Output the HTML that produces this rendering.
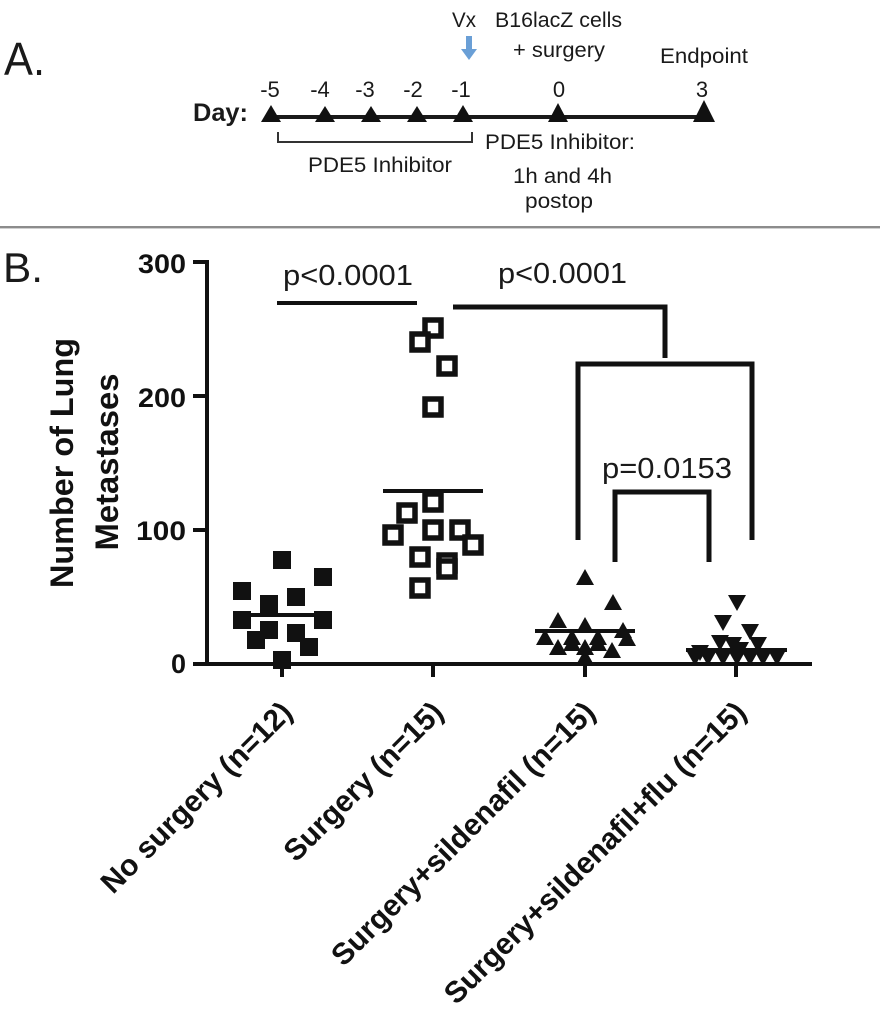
<!DOCTYPE html>
<html>
<head>
<meta charset="utf-8">
<style>
  html,body{margin:0;padding:0;background:#fff;}
  svg{display:block;}
</style>
</head>
<body>
<svg width="880" height="1021" viewBox="0 0 880 1021" xmlns="http://www.w3.org/2000/svg">
  <rect x="0" y="0" width="880" height="1021" fill="#ffffff"/>

  <!-- ============ PANEL A ============ -->
  <g font-family="'Liberation Sans', Arial, sans-serif" fill="#1a1a1a">
    <text x="4" y="75" font-size="46" textLength="41" lengthAdjust="spacingAndGlyphs">A.</text>

    <text x="452" y="27" font-size="21" textLength="24" lengthAdjust="spacingAndGlyphs">Vx</text>
    <text x="495" y="27" font-size="21" textLength="127" lengthAdjust="spacingAndGlyphs">B16lacZ cells</text>
    <text x="513" y="57" font-size="21" textLength="92" lengthAdjust="spacingAndGlyphs">+ surgery</text>
    <text x="660" y="63" font-size="21" textLength="88" lengthAdjust="spacingAndGlyphs">Endpoint</text>

    <g font-size="22" text-anchor="middle">
      <text x="270" y="97">-5</text>
      <text x="320" y="97">-4</text>
      <text x="365" y="97">-3</text>
      <text x="413" y="97">-2</text>
      <text x="461" y="97">-1</text>
      <text x="559" y="97">0</text>
      <text x="702" y="97">3</text>
    </g>

    <text x="193" y="121" font-size="25" font-weight="bold" textLength="55" lengthAdjust="spacingAndGlyphs">Day:</text>

    <text x="308" y="172" font-size="21" textLength="144" lengthAdjust="spacingAndGlyphs">PDE5 Inhibitor</text>
    <text x="485" y="149" font-size="21" textLength="150" lengthAdjust="spacingAndGlyphs">PDE5 Inhibitor:</text>
    <text x="513" y="183" font-size="21" textLength="99" lengthAdjust="spacingAndGlyphs">1h and 4h</text>
    <text x="525" y="208" font-size="21" textLength="68" lengthAdjust="spacingAndGlyphs">postop</text>
  </g>

  <!-- blue arrow -->
  <rect x="466" y="36" width="6" height="14" fill="#6a9fd6"/>
  <polygon points="461,49 477,49 469,60" fill="#6a9fd6"/>

  <!-- timeline -->
  <line x1="271" y1="117" x2="704" y2="117" stroke="#1a1a1a" stroke-width="4"/>
  <g fill="#111">
    <polygon points="261,122 281,122 271,105"/>
    <polygon points="315,122 335,122 325,106"/>
    <polygon points="361,122 381,122 371,106"/>
    <polygon points="407,122 427,122 417,106"/>
    <polygon points="453,122 473,122 463,105"/>
    <polygon points="548,122 568,122 558,103"/>
    <polygon points="693,122 715,122 704,100"/>
  </g>
  <!-- bracket under days -->
  <path d="M278 132 V142 H472 V132" fill="none" stroke="#333" stroke-width="2"/>

  <!-- separator -->
  <rect x="0" y="226" width="880" height="2" fill="#8c8c8c"/>
  <rect x="0" y="228" width="880" height="1" fill="#d0d0d0"/>

  <!-- ============ PANEL B ============ -->
  <g font-family="'Liberation Sans', Arial, sans-serif" fill="#1a1a1a">
    <text x="3" y="282" font-size="42" textLength="40" lengthAdjust="spacingAndGlyphs">B.</text>
  </g>

  <!-- Y axis title -->
  <g font-family="'Liberation Sans', Arial, sans-serif" font-weight="bold" font-size="32" fill="#111" text-anchor="middle">
    <text transform="translate(73,463) rotate(-90)" textLength="250" lengthAdjust="spacingAndGlyphs">Number of Lung</text>
    <text transform="translate(118,462) rotate(-90)" textLength="177" lengthAdjust="spacingAndGlyphs">Metastases</text>
  </g>

  <!-- Y tick labels -->
  <g font-family="'Liberation Sans', Arial, sans-serif" font-weight="bold" font-size="27" fill="#111" text-anchor="end">
    <text x="186" y="273" textLength="48" lengthAdjust="spacingAndGlyphs">300</text>
    <text x="186" y="407" textLength="48" lengthAdjust="spacingAndGlyphs">200</text>
    <text x="186" y="540" textLength="50" lengthAdjust="spacingAndGlyphs">100</text>
    <text x="186" y="673">0</text>
  </g>

  <!-- axes -->
  <g stroke="#111" stroke-width="4" fill="none">
    <line x1="207" y1="260" x2="207" y2="666"/>
    <line x1="193" y1="664" x2="812" y2="664"/>
    <line x1="193" y1="262" x2="207" y2="262"/>
    <line x1="193" y1="396" x2="207" y2="396"/>
    <line x1="193" y1="530" x2="207" y2="530"/>
    <line x1="282" y1="664" x2="282" y2="677"/>
    <line x1="433" y1="664" x2="433" y2="677"/>
    <line x1="585" y1="664" x2="585" y2="677"/>
    <line x1="736" y1="664" x2="736" y2="677"/>
  </g>

  <!-- Group 1: filled squares -->
  <g fill="#111">
    <rect x="273" y="551" width="18" height="18"/>
    <rect x="314" y="568" width="18" height="18"/>
    <rect x="233" y="582" width="18" height="18"/>
    <rect x="287" y="588" width="18" height="18"/>
    <rect x="260" y="595" width="18" height="18"/>
    <rect x="233" y="611" width="18" height="18"/>
    <rect x="314" y="611" width="18" height="18"/>
    <rect x="260" y="621" width="18" height="18"/>
    <rect x="247" y="631" width="18" height="18"/>
    <rect x="287" y="624" width="18" height="18"/>
    <rect x="300" y="638" width="18" height="18"/>
    <rect x="273" y="651" width="18" height="18"/>
  </g>
  <line x1="233" y1="615" x2="332" y2="615" stroke="#111" stroke-width="4"/>

  <!-- Group 2: open squares -->
  <g fill="#fff" stroke="#111" stroke-width="5.5">
    <rect x="425" y="320" width="16" height="16"/>
    <rect x="412" y="334" width="16" height="16"/>
    <rect x="439" y="358" width="16" height="16"/>
    <rect x="425" y="399" width="16" height="16"/>
    <rect x="425" y="494" width="16" height="16"/>
    <rect x="399" y="505" width="16" height="16"/>
    <rect x="385" y="527" width="16" height="16"/>
    <rect x="425" y="522" width="16" height="16"/>
    <rect x="452" y="522" width="16" height="16"/>
    <rect x="465" y="537" width="16" height="16"/>
    <rect x="412" y="549" width="16" height="16"/>
    <rect x="439" y="555" width="16" height="16"/>
    <rect x="439" y="561" width="16" height="16"/>
    <rect x="412" y="580" width="16" height="16"/>
  </g>
  <line x1="383" y1="491" x2="483" y2="491" stroke="#111" stroke-width="4"/>

  <!-- Group 3: up triangles -->
  <g fill="#111">
    <polygon points="576,585 594,585 585,569"/>
    <polygon points="604,610 622,610 613,594"/>
    <polygon points="549,628 567,628 558,612"/>
    <polygon points="576,633 594,633 585,617"/>
    <polygon points="614,638 632,638 623,622"/>
    <polygon points="536,645 554,645 545,629"/>
    <polygon points="563,645 581,645 572,629"/>
    <polygon points="589,645 607,645 598,629"/>
    <polygon points="618,646 636,646 627,630"/>
    <polygon points="549,655 567,655 558,639"/>
    <polygon points="576,655 594,655 585,639"/>
    <polygon points="603,658 621,658 612,642"/>
    <polygon points="563,651 581,651 572,635"/>
    <polygon points="576,665 594,665 585,649"/>
    <polygon points="589,651 607,651 598,635"/>
  </g>
  <line x1="535" y1="631" x2="635" y2="631" stroke="#111" stroke-width="4"/>

  <!-- Group 4: down triangles -->
  <g fill="#111">
    <polygon points="728,595 746,595 737,611"/>
    <polygon points="714,615 732,615 723,631"/>
    <polygon points="741,624 759,624 750,640"/>
    <polygon points="749,637 767,637 758,653"/>
    <polygon points="711,635 729,635 720,651"/>
    <polygon points="724,637 742,637 733,653"/>
    <polygon points="686,650 704,650 695,666"/>
    <polygon points="699,650 717,650 708,666"/>
    <polygon points="714,650 732,650 723,666"/>
    <polygon points="728,650 746,650 737,666"/>
    <polygon points="741,650 759,650 750,666"/>
    <polygon points="754,650 772,650 763,666"/>
    <polygon points="768,650 786,650 777,666"/>
    <polygon points="691,645 709,645 700,661"/>
    <polygon points="731,642 749,642 740,658"/>
  </g>
  <line x1="686" y1="650" x2="787" y2="650" stroke="#111" stroke-width="4"/>

  <!-- significance brackets -->
  <g stroke="#111" stroke-width="5" fill="none">
    <line x1="277" y1="303" x2="417" y2="303" stroke-width="4"/>
    <path d="M453 307 H665 V358"/>
    <path d="M578 540 V364 H752 V540"/>
    <path d="M615 562 V492 H709 V562"/>
  </g>

  <g font-family="'Liberation Sans', Arial, sans-serif" font-size="29" fill="#1a1a1a">
    <text x="283" y="285" textLength="130" lengthAdjust="spacingAndGlyphs">p&lt;0.0001</text>
    <text x="498" y="283" textLength="129" lengthAdjust="spacingAndGlyphs">p&lt;0.0001</text>
    <text x="602" y="478" textLength="130" lengthAdjust="spacingAndGlyphs">p=0.0153</text>
  </g>

  <!-- category labels -->
  <g font-family="'Liberation Sans', Arial, sans-serif" font-weight="bold" font-size="30" fill="#111" text-anchor="end">
    <text transform="translate(294,714) rotate(-45)">No surgery (n=12)</text>
    <text transform="translate(445,714) rotate(-45)">Surgery (n=15)</text>
    <text transform="translate(597,714) rotate(-45)">Surgery+sildenafil (n=15)</text>
    <text transform="translate(748,714) rotate(-45)">Surgery+sildenafil+flu (n=15)</text>
  </g>
</svg>
</body>
</html>
